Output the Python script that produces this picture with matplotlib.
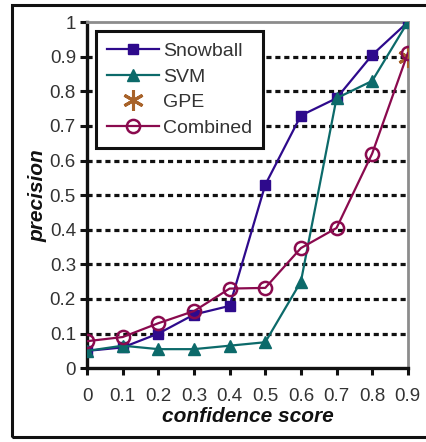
import matplotlib
matplotlib.use("Agg")
import matplotlib.pyplot as plt
from matplotlib.patches import Rectangle

plt.rcParams["font.family"] = ["Liberation Sans", "DejaVu Sans"]

# confidence score buckets
conf = [0.0, 0.1, 0.2, 0.3, 0.4, 0.5, 0.6, 0.7, 0.8, 0.9]
x_labels = ["0", "0.1", "0.2", "0.3", "0.4", "0.5", "0.6", "0.7", "0.8", "0.9"]

snowball = [0.05, 0.06, 0.10, 0.155, 0.18, 0.53, 0.73, 0.78, 0.905, 1.0]
svm = [0.05, 0.065, 0.055, 0.055, 0.065, 0.075, 0.25, 0.78, 0.83, 1.0]
gpe_x = [0.9]
gpe = [0.9]
combined = [0.078, 0.09, 0.13, 0.165, 0.23, 0.232, 0.347, 0.405, 0.62, 0.91]

y_ticks = [0, 0.1, 0.2, 0.3, 0.4, 0.5, 0.6, 0.7, 0.8, 0.9, 1.0]
y_labels = ["0", "0.1", "0.2", "0.3", "0.4", "0.5", "0.6", "0.7", "0.8", "0.9", "1"]

C_SNOW = "#2e0a8c"
C_SVM = "#0c6a6a"
C_GPE = "#a8632a"
C_COMB = "#8a0a4e"
TXT = "#333333"

fig = plt.figure(figsize=(4.27, 4.42), dpi=100)
ax = fig.add_axes([0.204, 0.167, 0.751, 0.783])

# outer frame around the whole picture
fig.patches.append(Rectangle((12 / 427, 5 / 442), 1.2, 432 / 442, transform=fig.transFigure,
                             fill=False, edgecolor="#111111", linewidth=2.2))

for yv in y_ticks[1:-1]:
    ax.axhline(yv, color="#111111", linestyle=(0, (1.6, 1.2)), linewidth=2.3, zorder=1)

ax.plot(conf, snowball, color=C_SNOW, marker="s", markersize=7.5, linewidth=1.6,
        label="Snowball", zorder=3)
ax.plot(conf, svm, color=C_SVM, marker="^", markersize=8.5, linewidth=1.6,
        label="SVM", zorder=3)
ax.plot(gpe_x, gpe, color=C_GPE, marker=(6, 2, 0), markersize=15, markeredgewidth=2.2,
        linestyle="none", label="GPE", zorder=4)
ax.plot(conf, combined, color=C_COMB, marker="o", markersize=9.5, markerfacecolor="none",
        markeredgewidth=1.8, linewidth=1.6, label="Combined", zorder=5)

ax.set_xlim(0, 0.9)
ax.set_ylim(0, 1.0)
ax.set_xticks(conf)
ax.set_xticklabels(x_labels)
ax.set_yticks(y_ticks)
ax.set_yticklabels(y_labels)
ax.tick_params(axis="both", labelsize=13.5, labelcolor=TXT, width=2.2, length=5,
               color="#111111", direction="out")
ax.tick_params(axis="x", pad=9)
ax.tick_params(axis="y", pad=3)

ax.spines["left"].set_linewidth(2.4)
ax.spines["bottom"].set_linewidth(2.4)
ax.spines["left"].set_color("#111111")
ax.spines["bottom"].set_color("#111111")
ax.spines["top"].set_color("#8c8c8c")
ax.spines["right"].set_color("#8c8c8c")
ax.spines["top"].set_linewidth(2)
ax.spines["right"].set_linewidth(2)

ax.set_xlabel("confidence score", fontsize=15, fontweight="bold", fontstyle="italic",
              labelpad=2, color="#111111")
ax.set_ylabel("precision", fontsize=15, fontweight="bold", fontstyle="italic",
              labelpad=2, color="#111111")

leg = ax.legend(loc="upper left", bbox_to_anchor=(0.028, 0.973), fontsize=14,
                handlelength=2.7, handletextpad=0.2, labelspacing=0.42,
                borderpad=0.55, borderaxespad=0.0, fancybox=False, framealpha=1,
                labelcolor=TXT)
leg.get_frame().set_edgecolor("#111111")
leg.get_frame().set_linewidth(2.2)

fig.savefig("out.png", dpi=100)
